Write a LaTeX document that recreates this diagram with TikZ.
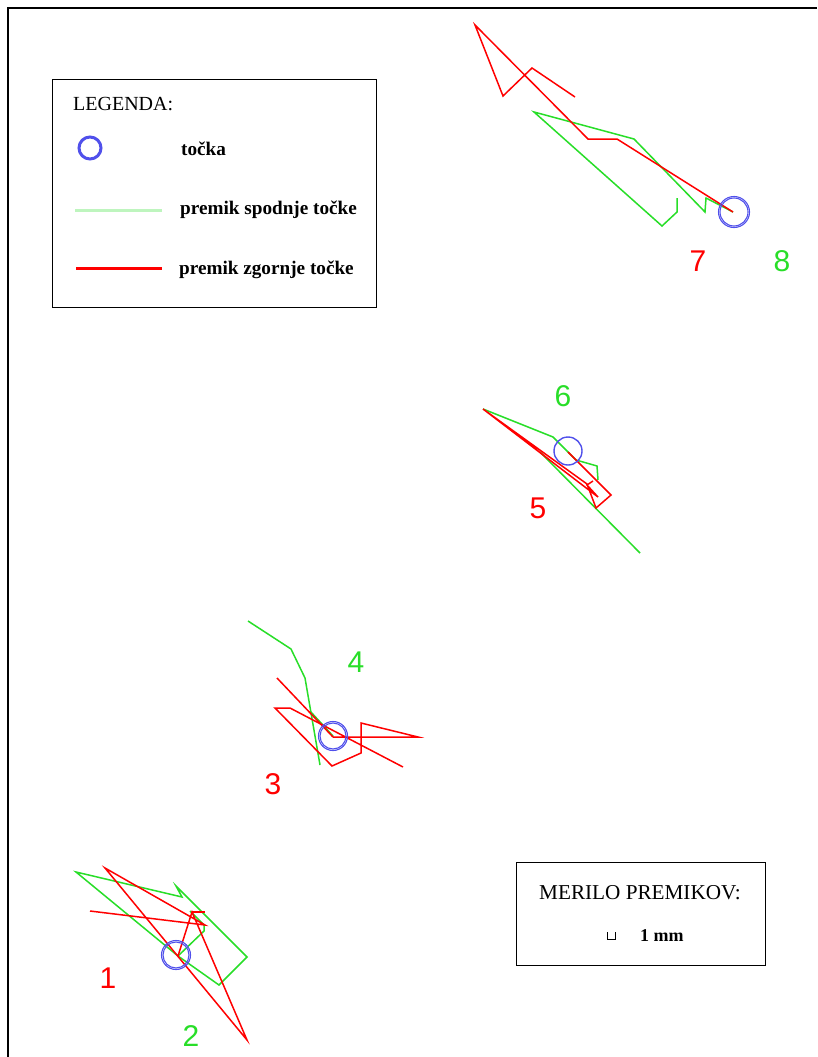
\documentclass[tikz,border=0pt]{standalone}
\usepackage{fontspec}
\setmainfont{Liberation Serif}
\newfontfamily\arialf{Liberation Sans}
\definecolor{pred}{RGB}{255,0,0}
\definecolor{pgreen}{RGB}{40,222,40}
\definecolor{pblue}{RGB}{80,80,235}
\definecolor{lgreen}{RGB}{190,245,190}
\begin{document}
\begin{tikzpicture}[x=1pt,y=-1pt,
  redline/.style={pred, line width=1.5pt, line join=miter},
  greenline/.style={pgreen, line width=1.5pt, line join=miter},
  pointc/.style={pblue, line width=1.1pt},
  numlab/.style={font=\arialf\fontsize{30}{32}\selectfont, inner sep=0pt},
  legtext/.style={font=\bfseries\fontsize{19.2}{21}\selectfont, anchor=west, inner sep=0pt},
  boxtitle/.style={inner sep=0pt},
  framebox/.style={draw=black, line width=1pt}]
\useasboundingbox (0,0) rectangle (817,1057);
\fill[white] (0,0) rectangle (817,1057);
% outer frame
\draw[black, line width=2pt] (8,1057) -- (8,8) -- (817,8);

% legend
\node[framebox, minimum width=324pt, minimum height=228pt, anchor=north west, inner sep=0pt] (legend) at (52,79) {};
\node[boxtitle, anchor=west, font=\fontsize{20}{22}\selectfont] (legtitle) at (73,104) {LEGENDA:};
\draw[pblue, line width=3pt] (90,148) circle (11);
\node[legtext] (legpt) at (181,149) {točka};
\coordinate (lg1) at (75,210);
\coordinate (lg2) at (162,210);
\draw[lgreen, line width=3pt] (lg1) -- (lg2);
\node[legtext] (legsp) at (180,210) {premik spodnje točke};
\coordinate (lr1) at (76,268);
\coordinate (lr2) at (162,268);
\draw[pred, line width=3pt] (lr1) -- (lr2);
\node[legtext] (legzg) at (179,270) {premik zgornje točke};

% scale box
\node[framebox, minimum width=249pt, minimum height=103pt, anchor=north west, inner sep=0pt] (scalebox) at (516,862) {};
\node[boxtitle, font=\fontsize{21.2}{23}\selectfont] (scaletitle) at (640,893) {MERILO PREMIKOV:};
\draw[black, line width=0.8pt] (607,932) -- (607,939) -- (615,939) -- (615,932);
\node[font=\bfseries\fontsize{18}{20}\selectfont, anchor=west, inner sep=0pt] (scaletext) at (640,936) {1 mm};

% ---- point 7/8
\draw[greenline] (677,198) -- (677,212) -- (662,226) -- (534,112) -- (634,139) -- (705,212) -- (706,198) -- (733,212);
\draw[redline] (575,97) -- (532,68) -- (503,96) -- (475,25) -- (588,139) -- (617,139) -- (733,212);
\draw[pointc] (734,212) circle (14);
\draw[pointc] (734,212) circle (15.5);
\node[numlab, text=pred] (n7) at (698,261) {7};
\node[numlab, text=pgreen] (n8) at (782,261) {8};

% ---- point 5/6
\draw[greenline] (483,409) -- (553,437) -- (568,452) -- (576,460) -- (597,466) -- (598,480);
\draw[greenline] (640,553) -- (540,452);
\draw[redline] (568,452) -- (611,495) -- (596,508) -- (587,484) -- (483,409) -- (598,497) -- (587,485) -- (593,481);
\draw[pointc, line width=1.4pt] (568,451) circle (14);
\node[numlab, text=pgreen] (n6) at (563,396) {6};
\node[numlab, text=pred] (n5) at (538,508) {5};

% ---- point 3/4
\draw[greenline] (248,621) -- (291,649) -- (305,678) -- (320,765);
\draw[greenline] (310,711) -- (333,736);
\draw[redline] (333,737) -- (418,737) -- (361,723) -- (361,753) -- (332,766) -- (275,708) -- (290,708) -- (403,767);
\draw[redline] (277,678) -- (333,737);
\draw[pointc] (333,736) circle (13);
\draw[pointc] (333,736) circle (14.5);
\node[numlab, text=pgreen] (n4) at (356,662) {4};
\node[numlab, text=pred] (n3) at (273,784) {3};

% ---- point 1/2
\draw[greenline] (178,956) -- (76,872) -- (182,897) -- (176,886) -- (247,957) -- (219,985) -- (178,956) -- (204,931) -- (204,925) -- (190,911);
\draw[redline] (178,956) -- (192,912) -- (247,1040) -- (105,868) -- (205,925) -- (90,911);
\draw[redline] (192,912) -- (205,912);
\draw[pointc] (176,955) circle (13);
\draw[pointc] (176,955) circle (14.5);
\node[numlab, text=pred] (n1) at (108,978) {1};
\node[numlab, text=pgreen] (n2) at (191,1036) {2};
\end{tikzpicture}
\end{document}
